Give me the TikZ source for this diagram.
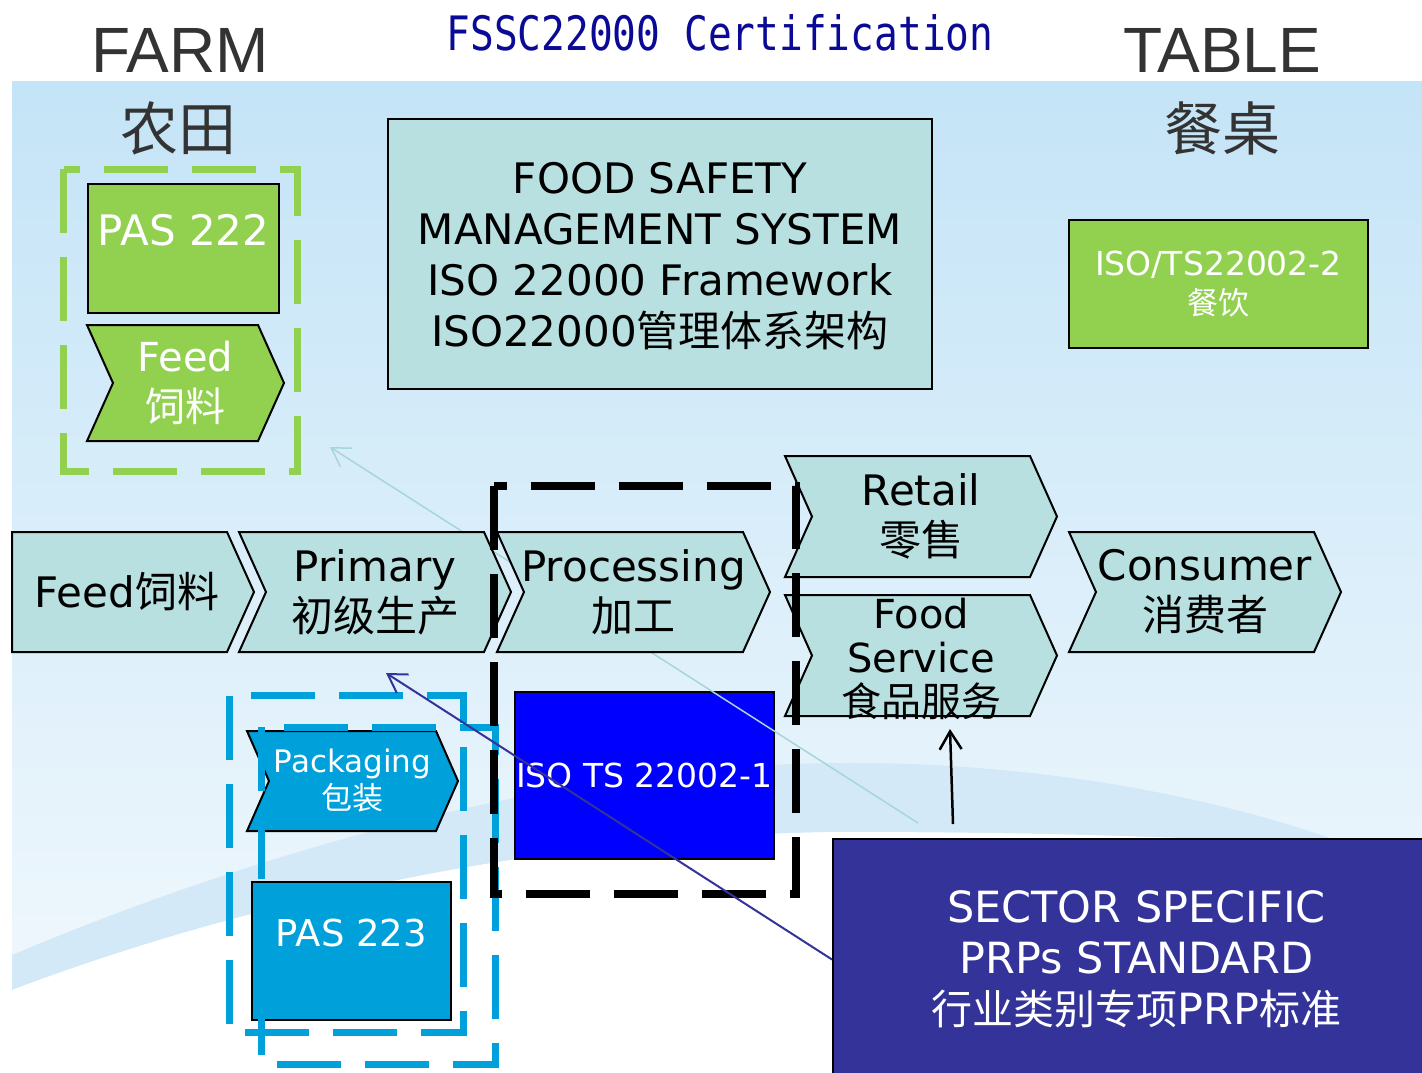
\documentclass[tikz,border=0pt]{standalone}
\usepackage{fontspec}
\usepackage{graphicx}
\setmainfont{DejaVu Sans}
\newfontfamily\cjk{Noto Sans CJK SC}
\newfontfamily\farmfont{Liberation Sans}
\newfontfamily\titlemono{DejaVu Sans Mono}
\usetikzlibrary{arrows.meta,positioning}

\definecolor{chevteal}{HTML}{B9E0E1}
\definecolor{pasgreen}{HTML}{92D050}
\definecolor{pasblue}{HTML}{00A0DA}
\definecolor{isoblue}{HTML}{0000FF}
\definecolor{prpblue}{HTML}{333399}
\definecolor{headgray}{HTML}{333333}
\definecolor{titleblue}{HTML}{0A0A96}
\definecolor{skytop}{HTML}{C4E4F7}
\definecolor{skybot}{HTML}{F3F9FD}
\definecolor{swoosh}{HTML}{D3E9F7}
\definecolor{faint}{HTML}{A6D6D8}

\tikzset{
  chevbox/.style={draw=black, line width=2pt, fill=chevteal},
  greenchev/.style={draw=black, line width=2pt, fill=pasgreen},
  bluechev/.style={draw=black, line width=2pt, fill=pasblue},
  chainlbl/.style={align=center, inner sep=0pt, font=\fontsize{42}{50}\selectfont},
  svclbl/.style={align=center, inner sep=0pt, yshift=-3pt, font=\fontsize{40}{44}\selectfont},
  feedlbl/.style={align=center, inner sep=0pt, text=white, font=\fontsize{40}{50}\selectfont},
  packlbl/.style={align=center, inner sep=0pt, text=white, font=\fontsize{31}{37}\selectfont},
  headtxt/.style={text=headgray, inner sep=0pt, font=\farmfont\fontsize{64}{70}\selectfont},
  headcjk/.style={text=headgray, inner sep=0pt, font=\cjk\fontsize{58}{64}\selectfont},
  titletxt/.style={text=titleblue, inner sep=0pt, font=\titlemono\fontsize{39.5}{45}\selectfont},
  fsmsbox/.style={draw=black, line width=2pt, fill=chevteal, align=center, inner sep=0pt,
    minimum width=544pt, minimum height=270pt, font=\fontsize{42}{51}\selectfont},
  greenbox/.style={draw=black, line width=2pt, fill=pasgreen, text=white, inner sep=0pt},
  bluebox/.style={draw=black, line width=2pt, fill=pasblue, text=white, inner sep=0pt},
  isobox/.style={draw=black, line width=2pt, fill=isoblue, text=white, inner sep=0pt,
    font=\fontsize{33}{39}\selectfont},
  prpbox/.style={draw=black, line width=2pt, fill=prpblue, text=white, align=center, inner sep=0pt,
    font=\fontsize{43}{51}\selectfont},
  greendash/.style={draw=pasgreen, line width=7pt, dash pattern=on 64pt off 24pt},
  bluedash/.style={draw=pasblue, line width=7pt, dash pattern=on 64pt off 24pt},
  blackdash/.style={draw=black, line width=8pt, dash pattern=on 64pt off 24pt},
  >={Straight Barb[length=18pt,width=22pt]},
  prparrow/.style={->, draw=prpblue, line width=2pt},
  blackarrow/.style={->, draw=black, line width=2.5pt},
  faintarrow/.style={->, draw=faint, line width=1.5pt},
}

% chevron: style, name, x, y, top width, height, tip depth, label style, text
\newcommand{\chev}[9]{%
  \draw[#1] (#3,#4) -- ++(#5,0) -- ++(#7,#6/2) -- ++(-#7,#6/2) -- ++(-#5,0) -- ++(#7,-#6/2) -- cycle;
  \node[#8] (#2) at ({#3+(#5+#7)/2},{#4+#6/2}) {#9};}

\begin{document}
\begin{tikzpicture}[x=1pt,y=-1pt]
  \useasboundingbox (0,0) rectangle (1422,1073);
  \fill[white] (0,0) rectangle (1422,1073);
  \shade[top color=skytop, bottom color=skybot] (12,82) rectangle (1422,1073);
  \fill[swoosh] (12,955) .. controls (250,855) and (550,765) .. (840,763)
    .. controls (1050,762) and (1220,800) .. (1330,838) -- (1422,852)
    .. controls (1200,835) and (1000,832) .. (840,832)
    .. controls (550,835) and (250,900) .. (12,990) -- cycle;
  \fill[white] (12,990) .. controls (250,900) and (550,835) .. (840,832)
    .. controls (1000,832) and (1200,835) .. (1422,852) -- (1422,1073) -- (12,1073) -- cycle;

  % headings
  \node[headtxt] (farm) at (180,50) {FARM};
  \node[headcjk] (farmcn) at (178,128) {农田};
  \node[headtxt] (table) at (1222,50) {TABLE};
  \node[headcjk] (tablecn) at (1222,128) {餐桌};
  \node[titletxt] (title) at (720,33) {\scalebox{1}[1.2]{FSSC22000 Certification}};

  % standards
  \node[fsmsbox, text depth=0pt] (fsms) at (660,254) {FOOD SAFETY\\MANAGEMENT SYSTEM\\ISO 22000 Framework\\ISO22000{\cjk 管理体系架构}};
  \node[greenbox, align=center, minimum width=299pt, minimum height=128pt, font=\fontsize{33}{39}\selectfont]
    (tsfood) at (1218.5,284) {ISO/TS22002-2\\{\cjk\fontsize{31}{39}\selectfont 餐饮}};
  \node[greenbox, minimum width=191pt, minimum height=129pt, text depth=37pt, font=\fontsize{42}{50}\selectfont]
    (pas222) at (183.5,248.5) {PAS 222};
  \chev{greenchev}{feedfarm}{87}{325}{171}{116}{26}{feedlbl}{Feed\\{\cjk 饲料}}
  \node[isobox, minimum width=259pt, minimum height=167pt] (tsmanu) at (644.5,775.5) {ISO TS 22002-1};

  % faint link
  \coordinate (faintfoot) at (918,823);
  \coordinate (farmin) at (330,447);
  \draw[faintarrow] (faintfoot) -- (farmin);

  % chain
  \draw[chevbox] (12,532) -- (227,532) -- (254,592) -- (227,652) -- (12,652) -- cycle;
  \node[chainlbl] (feed) at (127,592) {Feed{\cjk 饲料}};
  \chev{chevbox}{primary}{239}{532}{245}{120}{27}{chainlbl}{Primary\\{\cjk 初级生产}}
  \chev{chevbox}{processing}{497}{532}{246}{120}{27}{chainlbl}{Processing\\{\cjk 加工}}
  \chev{chevbox}{retail}{785}{456}{245}{121}{27}{chainlbl}{Retail\\{\cjk 零售}}
  \chev{chevbox}{foodsvc}{785}{595}{245}{121}{27}{svclbl}{Food\\Service\\{\cjk 食品服务}}
  \chev{chevbox}{consumer}{1069}{532}{245}{120}{27}{chainlbl}{Consumer\\{\cjk 消费者}}

  % packaging
  \chev{bluechev}{packaging}{247}{731}{189}{100}{22}{packlbl}{Packaging\\{\cjk 包装}}
  \node[bluebox, minimum width=199pt, minimum height=138pt, text depth=36pt, font=\fontsize{37}{44}\selectfont]
    (pas223) at (351.5,951) {PAS 223};

  % frames
  \draw[greendash] (63.5,169) rectangle (297,471.5);
  \draw[bluedash] (229.5,695.5) rectangle (463.5,1032);
  \draw[bluedash] (261.5,727) rectangle (495.5,1064);
  \draw[blackdash] (493.5,486) rectangle (796,894);

  % sector PRPs
  \node[prpbox, minimum width=607pt, minimum height=241pt] (sector) at (1136.5,959.5)
    {SECTOR SPECIFIC\\PRPs STANDARD\\{\cjk\fontsize{41}{51}\selectfont 行业类别专项}PRP{\cjk\fontsize{41}{51}\selectfont 标准}};

  \coordinate (prpin) at (386,673);
  \coordinate (svcfoot) at (953,824);
  \coordinate (svcin) at (950,729);
  \draw[prparrow] (sector.west) -- (prpin);
  \draw[blackarrow] (svcfoot) -- (svcin);
\end{tikzpicture}
\end{document}
